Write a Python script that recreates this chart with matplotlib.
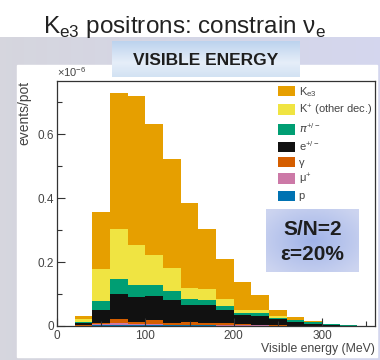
import numpy as np
import matplotlib
matplotlib.use("Agg")
import matplotlib.pyplot as plt
from matplotlib.ticker import MultipleLocator, FuncFormatter
from matplotlib.colors import to_rgb

# histogram data, units of 1e-6 events/pot, 20 MeV bins
bin_left = [20, 40, 60, 80, 100, 120, 140, 160, 180, 200, 220, 240, 260, 280, 300, 320]
bin_width = 20
protons = [0.001, 0.003, 0.004, 0.003, 0.003, 0.002, 0.002, 0.002, 0.001, 0.001, 0.001, 0.0005, 0, 0, 0, 0]
muons = [0.0, 0.002, 0.004, 0.003, 0.004, 0.002, 0.002, 0.002, 0.001, 0.001, 0.001, 0, 0, 0, 0, 0]
photons = [0.001, 0.004, 0.014, 0.006, 0.013, 0.005, 0.007, 0.005, 0.006, 0.003, 0.002, 0.004, 0.001, 0, 0, 0]
electrons = [0.006, 0.041, 0.077, 0.078, 0.074, 0.072, 0.055, 0.056, 0.042, 0.029, 0.026, 0.016, 0.010, 0.006, 0.002, 0.001]
pions = [0.005, 0.029, 0.047, 0.037, 0.033, 0.027, 0.019, 0.017, 0.012, 0.008, 0.010, 0.006, 0.008, 0.006, 0.003, 0.001]
k_other = [0.008, 0.099, 0.156, 0.125, 0.095, 0.072, 0.033, 0.035, 0.022, 0.008, 0.010, 0.004, 0.001, 0.001, 0, 0]
ke3 = [0.010, 0.178, 0.428, 0.468, 0.411, 0.343, 0.267, 0.185, 0.126, 0.088, 0.047, 0.019, 0.007, 0.003, 0.001, 0]

# bottom -> top of the stack
layers = [
    (protons, "p", "#0072B2"),
    (muons, "\u03bc$^{\\mathregular{+}}$", "#CC79A7"),
    (photons, "\u03b3", "#D55E00"),
    (electrons, "e$^{\\mathregular{+/-}}$", "#111111"),
    (pions, "$\\pi^{\\mathregular{+/-}}$", "#009E73"),
    (k_other, "K$^{\\mathregular{+}}$ (other dec.)", "#F0E442"),
    (ke3, "K$_{\\mathregular{e3}}$", "#E69F00"),
]

SANS = "Liberation Sans"
W, H = 380, 360

fig = plt.figure(figsize=(3.8, 3.6), dpi=100)

# slide background in pixel coordinates
bg = fig.add_axes([0, 0, 1, 1])
bg.set_xlim(0, W)
bg.set_ylim(H, 0)
bg.axis("off")
left_c = np.array(to_rgb("#d6d6de"))
right_c = np.array(to_rgb("#d4d6ee"))
t = np.linspace(0, 1, 64)
grad = left_c[None, :] * (1 - t[:, None]) + right_c[None, :] * t[:, None]
bg.imshow(grad[None, :, :], extent=(0, W, H, 37), aspect="auto", zorder=0)
bg.add_patch(plt.Rectangle((17, 65), 360, 292, color="white", zorder=1))
bg.text(184, 33, "K$_{\\mathregular{e3}}$ positrons: constrain \u03bd$_{\\mathregular{e}}$",
        ha="center", va="baseline", fontsize=17.5, color="#222222", family=SANS)
bg.text(57, 77, "\u00d710$^{\\mathregular{-6}}$", ha="left", va="baseline",
        fontsize=8, color="#444444", family=SANS)

# "VISIBLE ENERGY" banner
ban = fig.add_axes([112 / W, 1 - 77 / H, 188 / W, 36 / H])
ban.axis("off")
top_c = np.array(to_rgb("#bcd3ee"))
mid_c = np.array(to_rgb("#e6eef9"))
low_c = np.array(to_rgb("#d2e2f3"))
v = np.linspace(0, 1, 64)[:, None]
col = np.where(v < 0.6, top_c + (mid_c - top_c) * (v / 0.6),
               mid_c + (low_c - mid_c) * ((v - 0.6) / 0.4))
ban.imshow(col[:, None, :], extent=(0, 1, 0, 1), aspect="auto")
ban.set_xlim(0, 1)
ban.set_ylim(0, 1)
ban.text(0.5, 0.47, "VISIBLE ENERGY", ha="center", va="center", fontsize=12.5,
         fontweight="bold", color="#1e1e1e", family=SANS)

# main histogram
ax = fig.add_axes([57 / W, 1 - 326 / H, 318 / W, 245 / H])
bottom = np.zeros(len(bin_left))
handles = []
for values, label, color in layers:
    bars = ax.bar(bin_left, values, width=bin_width, bottom=bottom, align="edge",
                  color=color, linewidth=0, label=label)
    handles.append(bars)
    bottom = bottom + np.array(values)

ax.set_xlim(0, 360)
ax.set_ylim(0, 0.766)
ax.xaxis.set_major_locator(MultipleLocator(100))
ax.xaxis.set_minor_locator(MultipleLocator(50))
ax.yaxis.set_major_locator(MultipleLocator(0.2))
ax.yaxis.set_minor_locator(MultipleLocator(0.1))
ax.yaxis.set_major_formatter(FuncFormatter(lambda v, p: f"{v:g}"))
ax.tick_params(which="both", direction="in", top=False, right=False, colors="#333333",
               labelcolor="#444444", labelsize=8.5)
ax.tick_params(which="major", length=6, width=0.8)
ax.tick_params(which="minor", length=3.5, width=0.8)
ax.tick_params(axis="y", pad=2)
ax.tick_params(axis="x", pad=3)
for lab in ax.get_xticklabels() + ax.get_yticklabels():
    lab.set_family(SANS)
for s in ax.spines.values():
    s.set_color("#333333")
    s.set_linewidth(0.9)

ax.set_ylabel("events/pot", loc="top", fontsize=10, color="#444444", family=SANS)
ax.yaxis.set_label_coords(-0.08, 1.0)
ax.set_xlabel("Visible energy (MeV)", loc="right", fontsize=8.8, color="#444444", family=SANS)
ax.xaxis.set_label_coords(1.0, -0.071)

ax.legend(handles[::-1], [l[1] for l in layers[::-1]], loc="upper left",
          bbox_to_anchor=(278 / W, 1 - 85 / H), bbox_transform=fig.transFigure,
          frameon=False, borderpad=0, borderaxespad=0, handlelength=1.55, handleheight=1.05,
          handletextpad=0.3, labelspacing=0.34, prop={"family": SANS, "size": 8},
          labelcolor="#444444")

# S/N box
sn = fig.add_axes([266 / W, 1 - 272 / H, 93 / W, 63 / H])
sn.axis("off")
yy, xx = np.mgrid[-1:1:64j, -1:1:64j]
r = np.clip(np.sqrt(xx ** 2 + yy ** 2) / 1.3, 0, 1)
cen = np.array(to_rgb("#a0b3e8"))
edge = np.array(to_rgb("#ccd4f0"))
img = cen[None, None, :] * (1 - r[..., None]) + edge[None, None, :] * r[..., None]
sn.imshow(img, extent=(0, 1, 0, 1), aspect="auto")
sn.set_xlim(0, 1)
sn.set_ylim(0, 1)
sn.text(0.5, 0.67, "S/N=2", ha="center", va="center", fontsize=15, fontweight="bold",
        color="#1e1e1e", family=SANS)
sn.text(0.5, 0.28, "\u03b5=20%", ha="center", va="center", fontsize=15, fontweight="bold",
        color="#1e1e1e", family=SANS)

fig.savefig("out.png", dpi=100)
